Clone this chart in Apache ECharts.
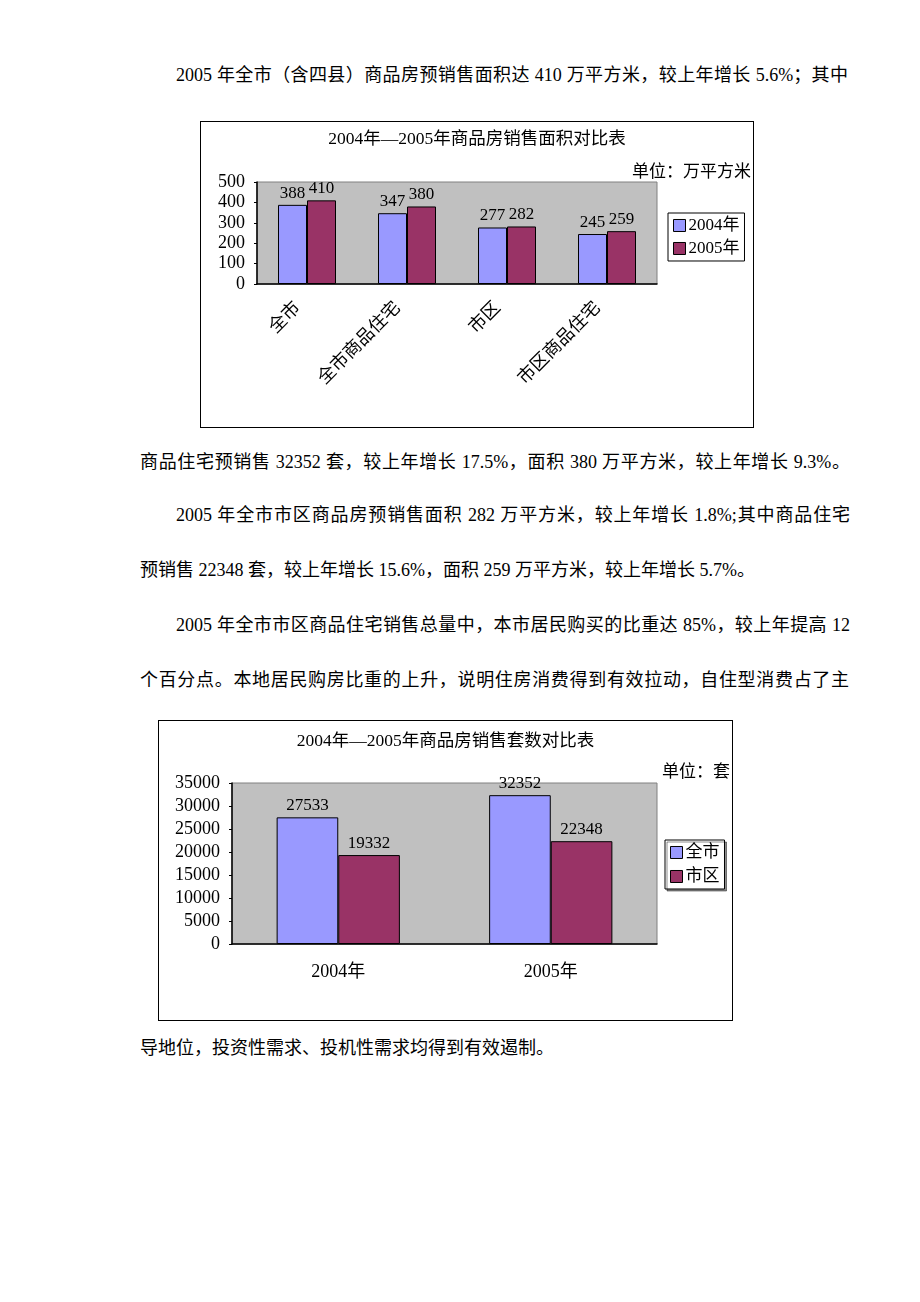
<!DOCTYPE html>
<html>
<head>
<meta charset="utf-8">
<title>商品房销售对比</title>
<script src="https://cdn.jsdelivr.net/npm/echarts@6/dist/echarts.min.js"></script>
<style>
  body { margin: 0; background: #fff; width: 920px; height: 1302px; position: relative; overflow: hidden; }
  .ln { position: absolute; font-family: "Liberation Serif", "Noto Sans CJK SC", serif; font-size: 18px; line-height: 24px; color: #000; white-space: nowrap; }
  .jf { text-align: justify; text-align-last: justify; white-space: normal; }
  .box { position: absolute; border: 1px solid #000; box-sizing: border-box; }
</style>
<script type="text/javascript">
  // 面积对比（万平方米）
  var areaCategories = ['全市', '全市商品住宅', '市区', '市区商品住宅'];
  var area2004 = [388, 347, 277, 245];
  var area2005 = [410, 380, 282, 259];
  var areaTicks = [0, 100, 200, 300, 400, 500];

  // 套数对比（套）
  var unitCategories = ['2004年', '2005年'];
  var unitsCity = [27533, 32352];
  var unitsUrban = [19332, 22348];
  var unitTicks = [0, 5000, 10000, 15000, 20000, 25000, 30000, 35000];

  var FONT = '"Liberation Serif", "Noto Sans CJK SC", serif';
  var BLUE = '#9999ff';
  var MAROON = '#993366';

  function barSeries(name, data, color){
    return {
      name: name,
      type: 'bar',
      data: data,
      barWidth: '29%',
      barGap: '0%',
      itemStyle: { color: color, borderColor: '#000', borderWidth: 1 },
      label: { show: true, position: 'top', distance: 3, color: '#000', fontSize: 17, fontFamily: FONT }
    };
  }

  function baseOption(title, unit, grid, legend, cats, ticks, xLabel){
    return {
      animation: false,
      textStyle: { fontFamily: FONT, color: '#000' },
      title: [
        { text: title, left: 'center', top: grid.titleTop, padding: 0,
          textStyle: { fontSize: 17.5, fontWeight: 'normal', color: '#000', fontFamily: FONT } },
        { text: unit, right: 2, top: grid.unitTop, padding: 0,
          textStyle: { fontSize: 17, fontWeight: 'normal', color: '#000', fontFamily: FONT } }
      ],
      legend: {
        orient: 'vertical', left: legend.left, top: legend.top,
        padding: [4, 5, 4, 5], itemGap: legend.gap, itemWidth: 12, itemHeight: 12,
        borderColor: '#000', borderWidth: 1, icon: 'rect', backgroundColor: '#fff',
        shadowColor: legend.shadow ? 'rgba(0,0,0,0.45)' : 'transparent',
        shadowOffsetX: 2, shadowOffsetY: 2, shadowBlur: 0,
        itemStyle: { borderColor: '#000', borderWidth: 1 },
        textStyle: { fontSize: 17, color: '#000', fontFamily: FONT, padding: [0, 0, 0, -2] }
      },
      grid: {
        left: grid.left, top: grid.top, width: grid.width, height: grid.height,
        show: true, backgroundColor: '#c0c0c0', borderColor: '#808080', borderWidth: 1
      },
      xAxis: {
        type: 'category', data: cats,
        axisLine: { lineStyle: { color: '#000', width: 1.5 } },
        axisTick: { inside: true, length: 5, lineStyle: { color: '#000' } },
        axisLabel: xLabel
      },
      yAxis: {
        type: 'value', min: ticks[0], max: ticks[ticks.length - 1], interval: ticks[1] - ticks[0],
        axisLine: { show: true, lineStyle: { color: '#000', width: 1.5 } },
        axisTick: { show: true, length: 3, lineStyle: { color: '#000' } },
        splitLine: { show: false },
        axisLabel: { margin: 12, fontSize: 18, color: '#000', fontFamily: FONT,
          formatter: function(v){ return String(v); } }
      }
    };
  }

  window.onload = function(){
    var c1 = echarts.init(document.getElementById('chart1'));
    var opt1 = baseOption('2004年—2005年商品房销售面积对比表', '单位：万平方米',
      { left: 56, top: 60, width: 400, height: 102, titleTop: 9, unitTop: 42 },
      { left: 467, top: 91, gap: 6, shadow: false }, areaCategories, areaTicks,
      { rotate: 45, margin: 12, padding: [2, 13, 0, 0], fontSize: 18, color: '#000', fontFamily: FONT });
    opt1.series = [barSeries('2004年', area2004, BLUE), barSeries('2005年', area2005, MAROON)];
    c1.setOption(opt1);

    var c2 = echarts.init(document.getElementById('chart2'));
    var opt2 = baseOption('2004年—2005年商品房销售套数对比表', '单位：套',
      { left: 73, top: 62, width: 425, height: 161, titleTop: 12, unitTop: 43 },
      { left: 506, top: 119, gap: 7, shadow: true }, unitCategories, unitTicks,
      { margin: 19, fontSize: 18, color: '#000', fontFamily: FONT });
    opt2.series = [barSeries('全市', unitsCity, BLUE), barSeries('市区', unitsUrban, MAROON)];
    c2.setOption(opt2);
  };
</script>
</head>
<body>
  <div class="ln jf" style="left:176px; top:63px; width:672px;">2005 年全市（含四县）商品房预销售面积达 410 万平方米，较上年增长 5.6%；其中</div>

  <div id="chart1" class="box" style="left:200px; top:121px; width:554px; height:307px;"></div>

  <div class="ln jf" style="left:140px; top:450px; width:710px;">商品住宅预销售 32352 套，较上年增长 17.5%，面积 380 万平方米，较上年增长 9.3%。</div>
  <div class="ln jf" style="left:176px; top:503px; width:674px;">2005 年全市市区商品房预销售面积 282 万平方米，较上年增长 1.8%;其中商品住宅</div>
  <div class="ln" style="left:140px; top:558px;">预销售 22348 套，较上年增长 15.6%，面积 259 万平方米，较上年增长 5.7%。</div>
  <div class="ln jf" style="left:176px; top:613px; width:674px;">2005 年全市市区商品住宅销售总量中，本市居民购买的比重达 85%，较上年提高 12</div>
  <div class="ln jf" style="left:140px; top:668px; width:709px;">个百分点。本地居民购房比重的上升，说明住房消费得到有效拉动，自住型消费占了主</div>

  <div id="chart2" class="box" style="left:158px; top:720px; width:575px; height:301px;"></div>

  <div class="ln" style="left:140px; top:1036px;">导地位，投资性需求、投机性需求均得到有效遏制。</div>
</body>
</html>
